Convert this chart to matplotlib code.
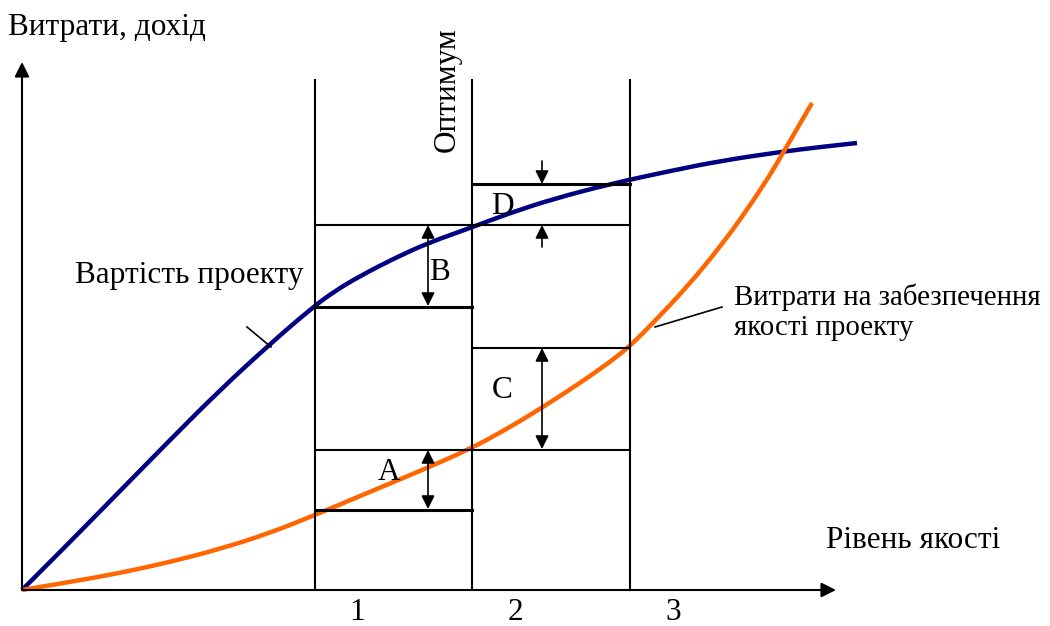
import matplotlib
matplotlib.use("Agg")
import matplotlib.pyplot as plt
from matplotlib.path import Path
from matplotlib.patches import PathPatch

plt.rcParams['font.family'] = ['Liberation Serif', 'DejaVu Serif']

# coordinate system: origin at axes crossing; x = quality, y = cost
OX, OY = 22, 590

def X(px):
    return px - OX

def Y(py):
    return OY - py

# curves (pixel positions converted to data units)
project_cost_px = [(22, 590), (70, 542), (120, 491), (170, 440), (220, 390), (270, 344),
                   (313, 307), (335, 291), (360, 276), (395, 258), (428, 243), (470, 228),
                   (510, 213), (553, 199), (610, 184), (670, 171), (720, 161), (780, 152),
                   (820, 147), (857, 143)]
quality_cost_px = [(22, 590), (70, 582), (120, 573), (170, 562), (220, 549), (270, 533),
                   (315, 515), (360, 496), (420, 471), (470, 449), (505, 430), (540, 409),
                   (580, 383), (610, 362), (630, 346), (653, 323), (687, 287), (720, 247),
                   (747, 210), (770, 175), (783, 153), (812, 103)]

project_x = [X(p[0]) for p in project_cost_px]
project_y = [Y(p[1]) for p in project_cost_px]
quality_x = [X(p[0]) for p in quality_cost_px]
quality_y = [Y(p[1]) for p in quality_cost_px]

zone_bounds = [X(315), X(472), X(630)]
zone_labels = ['1', '2', '3']
zone_label_x = [X(357), X(515), X(673)]

fig = plt.figure(figsize=(10.5, 6.26), dpi=100)
ax = fig.add_axes([0, 0, 1, 1])
ax.set_xlim(-OX, 1050 - OX)
ax.set_ylim(OY - 626, OY)
ax.axis('off')

fs = 22.5


def smooth_path(xs, ys):
    # quadratic bezier through midpoints, using the read points as controls
    pts = list(zip(xs, ys))
    verts = [pts[0]]
    codes = [Path.MOVETO]
    for i in range(1, len(pts) - 1):
        mid = ((pts[i][0] + pts[i + 1][0]) / 2, (pts[i][1] + pts[i + 1][1]) / 2)
        if i == len(pts) - 2:
            mid = pts[-1]
        verts += [pts[i], mid]
        codes += [Path.CURVE3, Path.CURVE3]
    return Path(verts, codes)


# axes arrows
ax.annotate('', xy=(0, Y(62)), xytext=(0, 0),
            arrowprops=dict(arrowstyle='-|>', color='black', lw=1.5, mutation_scale=22,
                            shrinkA=0, shrinkB=0))
ax.annotate('', xy=(X(836), 0), xytext=(0, 0),
            arrowprops=dict(arrowstyle='-|>', color='black', lw=1.5, mutation_scale=22,
                            shrinkA=0, shrinkB=0))

# vertical zone lines
for xb in zone_bounds:
    ax.plot([xb, xb], [0, Y(80)], color='black', lw=1.5)

# horizontal reference lines
ax.plot([X(315), X(630)], [Y(225), Y(225)], color='black', lw=1.5)
ax.plot([X(472), X(630)], [Y(184), Y(184)], color='black', lw=2.2)
ax.plot([X(315), X(472)], [Y(307), Y(307)], color='black', lw=2.2)
ax.plot([X(472), X(630)], [Y(348), Y(348)], color='black', lw=1.5)
ax.plot([X(315), X(630)], [Y(450), Y(450)], color='black', lw=1.5)
ax.plot([X(315), X(472)], [Y(510), Y(510)], color='black', lw=2.2)

# curves
ax.add_patch(PathPatch(smooth_path(project_x, project_y), fill=False,
                       edgecolor='#000080', lw=3.2, capstyle='butt'))
ax.add_patch(PathPatch(smooth_path(quality_x, quality_y), fill=False,
                       edgecolor='#FF6600', lw=3.2, capstyle='butt'))

# double arrows
arrow_kw = dict(arrowstyle='<|-|>', color='black', lw=1.2, mutation_scale=20, shrinkA=0, shrinkB=0)
ax.annotate('', xy=(X(428), Y(225)), xytext=(X(428), Y(306)), arrowprops=arrow_kw)
ax.annotate('', xy=(X(428), Y(450)), xytext=(X(428), Y(509)), arrowprops=arrow_kw)
ax.annotate('', xy=(X(542), Y(348)), xytext=(X(542), Y(449)), arrowprops=arrow_kw)
single_kw = dict(arrowstyle='-|>', color='black', lw=1.2, mutation_scale=20, shrinkA=0, shrinkB=0)
ax.annotate('', xy=(X(542), Y(184)), xytext=(X(542), Y(161)), arrowprops=single_kw)
ax.annotate('', xy=(X(542), Y(225)), xytext=(X(542), Y(247)), arrowprops=single_kw)

# letters
ax.text(X(440), Y(272), 'B', fontsize=fs, ha='center', va='center')
ax.text(X(389), Y(472), 'A', fontsize=fs, ha='center', va='center')
ax.text(X(502), Y(390), 'C', fontsize=fs, ha='center', va='center')
ax.text(X(502), Y(207), 'D', fontsize=fs, ha='center', va='center')

# texts
ax.text(X(8), Y(28), 'Витрати, дохід', fontsize=fs, ha='left', va='center')
ax.text(X(826), Y(541), 'Рівень якості', fontsize=fs, ha='left', va='center')
ax.text(X(75), Y(275), 'Вартість проекту', fontsize=fs, ha='left', va='center')
ax.text(X(734), Y(297), 'Витрати на забезпечення', fontsize=20.8, ha='left', va='center')
ax.text(X(734), Y(328), 'якості проекту', fontsize=20.8, ha='left', va='center')
ax.text(X(447), Y(90), 'Оптимум', fontsize=fs, ha='center', va='center', rotation=90)

for lx, lab in zip(zone_label_x, zone_labels):
    ax.text(lx, Y(613), lab, fontsize=fs, ha='center', va='center')

# leader lines
ax.plot([X(247), X(271)], [Y(327), Y(347)], color='black', lw=1.2)
ax.plot([X(655), X(722)], [Y(327), Y(307)], color='black', lw=1.2)

fig.savefig('out.png', dpi=100)
